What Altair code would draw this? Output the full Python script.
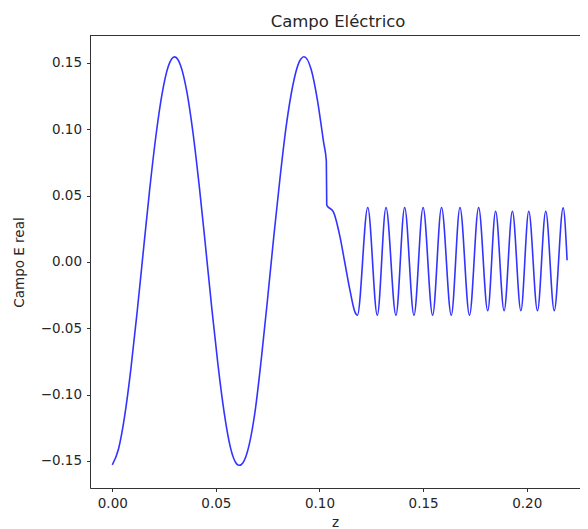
import altair as alt
import pandas as pd

# Values
z_vals = [
    0.0000, 0.0030, 0.0060, 0.0090, 0.0120, 0.0150, 0.0180, 0.0210, 0.0240,
    0.0270, 0.0300, 0.0330, 0.0360, 0.0390, 0.0420, 0.0450, 0.0480, 0.0510,
    0.0540, 0.0570, 0.0600, 0.0613, 0.0630, 0.0660, 0.0690, 0.0720, 0.0750, 0.0780,
    0.0810, 0.0840, 0.0870, 0.0900, 0.0925, 0.0960, 0.0990, 0.1020, 0.1033,
    0.1035, 0.1067, 0.1099, 0.1123, 0.1147, 0.1171, 0.1183,
    0.1233, 0.1279, 0.1321, 0.1369, 0.1411, 0.1456, 0.1500, 0.1546, 0.1589,
    0.1636, 0.1678, 0.1724, 0.1768, 0.1812, 0.1850, 0.1891, 0.1931, 0.1972,
    0.2010, 0.2052, 0.2092, 0.2133, 0.2176, 0.2195,
]
e_vals = [
    -0.1530, -0.1410, -0.1159, -0.0803, -0.0376, 0.0085, 0.0539, 0.0943, 0.1264,
    0.1472, 0.1545, 0.1479, 0.1281, 0.0967, 0.0567, 0.0117, -0.0346, -0.0774,
    -0.1136, -0.1398, -0.1522, -0.1533, -0.1515, -0.1383, -0.1117, -0.0720, -0.0270, 0.0200,
    0.0640, 0.1030, 0.1320, 0.1500, 0.1546, 0.1450, 0.1220, 0.0900, 0.0760,
    0.0428, 0.0377, 0.0189, -0.0012, -0.0213, -0.0377, -0.0402,
    0.0410, -0.0402, 0.0410, -0.0402, 0.0410, -0.0402, 0.0410, -0.0402, 0.0410,
    -0.0402, 0.0410, -0.0402, 0.0410, -0.0368, 0.0382, -0.0368, 0.0382, -0.0368,
    0.0382, -0.0368, 0.0382, -0.0368, 0.0407, 0.0013,
]
x_ticks = [0.00, 0.05, 0.10, 0.15, 0.20]
y_ticks = [-0.15, -0.10, -0.05, 0.00, 0.05, 0.10, 0.15]
title_text = ["Campo Eléctrico"]

df = pd.DataFrame({"z": z_vals, "E": e_vals})

FONT = "DejaVu Sans"
SPINE = "#333333"
TEXT = "#262626"
W, H = 490, 453
x_scale = alt.Scale(domain=[-0.01076, 0.22573], nice=False, zero=False)
y_scale = alt.Scale(domain=[-0.1704, 0.1710], nice=False, zero=False)

axis_common = dict(
    grid=False,
    domainColor=SPINE,
    domainWidth=1,
    tickColor=SPINE,
    tickWidth=1,
    tickSize=3.5,
    labelFont=FONT,
    labelFontSize=13.5,
    labelColor=TEXT,
    labelPadding=5,
    labelFlush=False,
    titleFont=FONT,
    titleFontSize=13.5,
    titleFontWeight="normal",
    titleColor=TEXT,
    format=".2f",
)

line = alt.Chart(df).mark_line(
    color="#0000ff", strokeWidth=1.6, opacity=0.8, interpolate="monotone"
).encode(
    x=alt.X(
        "z:Q",
        scale=x_scale,
        axis=alt.Axis(
            values=x_ticks, title="z", titleY=38.7, titleBaseline="alphabetic",
            **axis_common
        ),
    ),
    y=alt.Y(
        "E:Q",
        scale=y_scale,
        axis=alt.Axis(
            values=y_ticks, title="Campo E real", titleX=-70.5, titleY=227,
            titleBaseline="middle", titleAngle=270, **axis_common
        ),
    ),
)

# top frame line (matplotlib spine)
top_spine = alt.Chart(pd.DataFrame({"k": [0]})).mark_rule(
    color=SPINE, strokeWidth=1
).encode(x=alt.value(0), x2=alt.value(W), y=alt.value(0.5))

# chart title, placed above the frame
title = alt.Chart(pd.DataFrame({"t": title_text})).mark_text(
    font=FONT, fontSize=16.5, color=TEXT, baseline="alphabetic", align="center"
).encode(text="t:N", x=alt.value(248), y=alt.value(-8.3))

chart = (
    alt.layer(line, top_spine, title)
    .properties(
        width=W,
        height=H,
        autosize=alt.AutoSizeParams(type="none"),
        padding={"left": 82, "top": 27, "right": 0, "bottom": 41},
    )
    .configure_view(stroke=None)
    .configure(background="white")
)

chart.save("out.html", embed_options={"renderer": "svg", "actions": False})
